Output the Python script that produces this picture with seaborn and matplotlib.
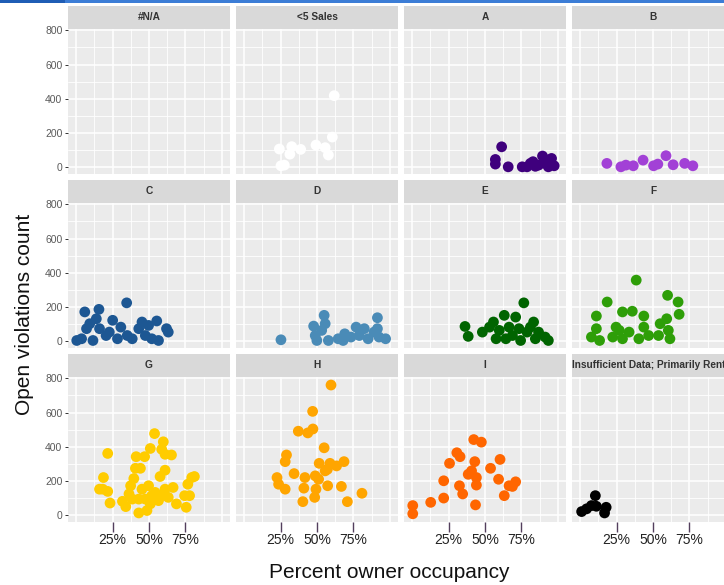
import pandas as pd
import numpy as np
import matplotlib
matplotlib.use("Agg")
import matplotlib.pyplot as plt
from matplotlib.patches import Rectangle
import seaborn as sns


# Open violations vs percent owner occupancy, one facet per grade

grades = ["#N/A", "<5 Sales", "A", "B", "C", "D", "E", "F", "G", "H", "I",
          "Insufficient Data; Primarily Rental"]
colors = ["#999999", "#FFFFFF", "#3F007D", "#A241D6", "#1D5793", "#4A8BB7",
          "#006400", "#2E9E08", "#FFCC00", "#FFA500", "#FF6600", "#000000"]

# percent owner occupancy (x) and open violations count (y) per grade
na_x, na_y = [], []
sales5_x = [61.8, 60.5, 24.2, 32.7, 38.8, 31.4, 49.3, 55.6, 57.8, 27.6, 25.3]
sales5_y = [418, 176, 106, 120, 104, 76, 129, 114, 71, 12, 8]
a_x = [61.4, 57.1, 57.1, 65.9, 75.5, 81.1, 84.5, 89.4, 91.2, 95.6, 97.4, 93.4,
       86.7, 78.8, 82.9, 92.6]
a_y = [119, 45, 18, 2, 2, 22, 5, 65, 22, 51, 8, 2, 12, 2, 32, 42]
b_x = [18.4, 28.0, 31.4, 36.5, 43.2, 50.4, 53.3, 58.9, 63.8, 71.7, 77.3]
b_y = [22, 2, 12, 8, 41, 8, 18, 67, 14, 22, 8]
c_x = [6.0, 15.7, 34.7, 13.9, 25.1, 55.3, 45.2, 62.0, 7.2, 30.7, 3.8, 11.6,
       20.6, 28.4, 38.5, 47.5, 56.5, 16.1, 43.0, 49.7, 22.8, 9.4, 63.2, 35.1,
       51.9, 0.5]
c_y = [171, 186, 224, 131, 122, 118, 112, 73, 73, 82, 14, 4, 33, 14, 14, 33,
       4, 73, 73, 92, 53, 102, 53, 33, 14, 4]
d_x = [25.3, 54.9, 55.6, 47.7, 48.8, 49.9, 91.4, 57.8, 64.5, 69.0, 76.8, 82.4,
       89.1, 91.4, 97.0, 85.0, 73.3, 53.2, 79.0, 92.5, 67.9]
d_y = [8, 151, 102, 88, 33, 4, 137, 4, 14, 43, 82, 73, 53, 73, 14, 14, 24, 63,
       33, 24, 4]
e_x = [36.3, 38.5, 48.2, 76.6, 55.8, 63.2, 71.0, 83.3, 53.1, 59.8, 66.5, 73.3,
       78.8, 86.7, 91.2, 93.4, 57.6, 64.3, 74.4, 84.5, 68.8, 81.1]
e_y = [86, 28, 53, 224, 112, 151, 141, 112, 82, 63, 82, 73, 53, 53, 24, 4, 14,
       14, 4, 14, 33, 82]
f_x = [38.5, 18.6, 60.0, 67.2, 67.9, 11.2, 29.1, 35.8, 43.7, 59.4, 54.9, 24.7,
       11.2, 7.8, 13.4, 22.4, 33.6, 43.7, 47.0, 40.3, 60.5, 61.6, 53.8, 29.1,
       26.9]
f_y = [357, 229, 268, 229, 157, 147, 171, 175, 147, 131, 102, 82, 73, 24, 4,
       24, 53, 82, 33, 14, 63, 14, 33, 14, 63]
g_x = [53.8, 21.7, 59.8, 50.9, 41.2, 47.0, 58.7, 61.0, 65.4, 40.7, 44.1, 39.6,
       61.0, 18.8, 57.6, 79.3, 76.6, 18.3, 21.7, 23.3, 31.8, 34.1, 43.0, 48.6,
       36.3, 45.2, 49.7, 54.2, 56.5, 61.0, 66.5, 63.2, 68.8, 74.4, 77.8, 75.5,
       43.0, 47.5, 51.9, 38.5, 58.7, 50.9, 16.1, 37.4, 81.1]
g_y = [477, 361, 429, 390, 342, 342, 385, 356, 352, 274, 274, 214, 263, 220,
       226, 220, 181, 152, 139, 71, 81, 50, 13, 27, 124, 152, 172, 133, 85, 152,
       162, 104, 66, 114, 114, 46, 94, 94, 114, 94, 114, 66, 152, 172, 226]
h_x = [59.6, 47.0, 37.2, 43.7, 47.2, 54.9, 29.1, 28.2, 51.5, 58.9, 68.5, 63.4,
       34.3, 57.1, 22.6, 41.7, 48.8, 51.1, 23.7, 28.2, 41.0, 57.3, 66.7, 49.3,
       48.4, 40.3, 70.8, 80.8, 55.6]
h_y = [761, 607, 491, 481, 504, 394, 352, 313, 303, 303, 313, 288, 243, 268,
       220, 220, 230, 210, 181, 152, 158, 172, 168, 152, 104, 79, 79, 128, 259]
i_x = [42.3, 47.5, 30.7, 32.9, 25.7, 43.0, 60.3, 53.8, 40.8, 38.5, 44.1, 21.7,
       59.3, 71.0, 66.5, 32.5, 44.1, 34.7, 63.2, 21.7, 12.8, 43.5, 0.5, 0.5,
       68.8]
i_y = [442, 427, 365, 342, 303, 313, 326, 274, 259, 239, 220, 201, 210, 195,
       172, 172, 176, 124, 114, 100, 75, 60, 56, 8, 168]
ins_x = [10.5, 7.8, 1.1, 4.5, 17.9, 16.8, 11.2]
ins_y = [114, 56, 21, 37, 46, 13, 52]

xs = [na_x, sales5_x, a_x, b_x, c_x, d_x, e_x, f_x, g_x, h_x, i_x, ins_x]
ys = [na_y, sales5_y, a_y, b_y, c_y, d_y, e_y, f_y, g_y, h_y, i_y, ins_y]

frames = []
for grade, x, y in zip(grades, xs, ys):
    frames.append(pd.DataFrame({"grade": grade, "pct": x, "count": y}))
df = pd.concat(frames, ignore_index=True)
palette = dict(zip(grades, colors))

sns.set_theme(style="darkgrid")
plt.rcParams["font.family"] = ["Liberation Sans", "DejaVu Sans"]

g = sns.relplot(data=df, x="pct", y="count", col="grade", hue="grade",
                col_wrap=4, col_order=grades, hue_order=grades, palette=palette,
                s=60, linewidth=0, alpha=1, legend=False, height=2, aspect=1)
g.set_axis_labels("", "")
g.set_titles("")

fig = g.figure
fig.set_size_inches(7.24, 5.85)
fig.set_dpi(100)
W, H = 724.0, 585.0

for i, ax in enumerate(g.axes.flat):
    row, col = divmod(i, 4)
    left = 68 + col * 168
    top = 29 + row * 174
    ax.set_position([left / W, 1 - (top + 145) / H, 162 / W, 145 / H])
    ax.set_facecolor("#EBEBEB")
    for sp in ax.spines.values():
        sp.set_visible(False)

    ax.set_xlim(-5.5, 105.5)
    ax.set_ylim(-40, 808)
    ax.set_xticks([0, 25, 50, 75, 100])
    ax.set_xticks([12.5, 37.5, 62.5, 87.5], minor=True)
    ax.set_yticks([0, 200, 400, 600, 800])
    ax.set_yticks([100, 300, 500, 700], minor=True)
    ax.grid(which="major", color="white", linewidth=1.1)
    ax.grid(which="minor", color="white", linewidth=0.6)
    ax.set_axisbelow(True)

    # y ticks only on the left column
    if col == 0:
        ax.set_yticklabels(["0", "200", "400", "600", "800"])
        ax.tick_params(axis="y", which="major", left=True, length=2.5, width=0.7,
                       color="#333333", labelsize=7.5, labelcolor="#5A5A5A", pad=1.5)
    else:
        ax.tick_params(axis="y", which="both", left=False, labelleft=False)
    ax.tick_params(axis="y", which="minor", left=False)

    # x ticks only on the bottom row
    if row == 2:
        ax.set_xticklabels(["", "25%", "50%", "75%", ""])
        ax.tick_params(axis="x", which="major", bottom=True, length=7.5, width=1.0,
                       color="#54405E", labelsize=10, labelcolor="#222222", pad=0.5)
        ticks = ax.xaxis.get_major_ticks()
        ticks[0].tick1line.set_visible(False)
        ticks[-1].tick1line.set_visible(False)
    else:
        ax.tick_params(axis="x", which="both", bottom=False, labelbottom=False)
    ax.tick_params(axis="x", which="minor", bottom=False)

    # facet strip
    strip = Rectangle((0, 1), 1, 23 / 145, transform=ax.transAxes, clip_on=False,
                      facecolor="#D9D9D9", edgecolor="none")
    ax.add_patch(strip)
    t = ax.text(0.5, 1 + 11.5 / 145, grades[i], transform=ax.transAxes,
                ha="center", va="center", fontsize=7.3, fontweight="bold",
                color="#333333")
    t.set_clip_path(strip)

fig.text(0.034, 1 - 314 / H, "Open violations count", rotation=90,
         ha="center", va="center", fontsize=15, color="#111111")
fig.text(389 / W, 1 - 572 / H, "Percent owner occupancy",
         ha="center", va="center", fontsize=15, color="#111111")

# blue window edge at the top of the screenshot
fig.add_artist(Rectangle((0, 1 - 3 / H), 1, 3 / H, transform=fig.transFigure,
                         facecolor="#3C7DD6", edgecolor="none"))
fig.add_artist(Rectangle((0, 1 - 3 / H), 65 / W, 3 / H, transform=fig.transFigure,
                         facecolor="#1F5DB5", edgecolor="none"))

fig.savefig("out.png", dpi=100, facecolor="white")
